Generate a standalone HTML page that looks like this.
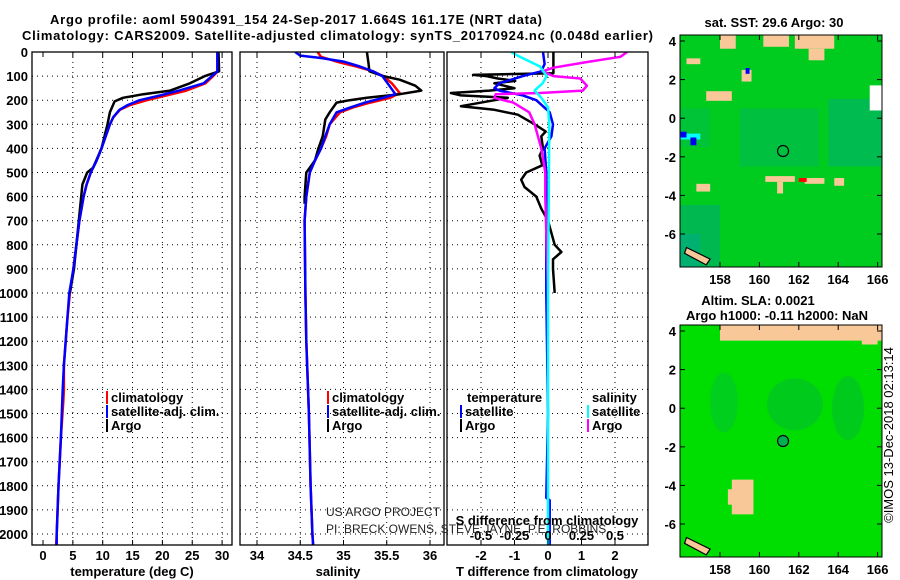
<!DOCTYPE html>
<html><head><meta charset="utf-8">
<style>
html,body{margin:0;padding:0;background:#fff;}
svg{display:block;font-family:"Liberation Sans",sans-serif;}
.b{font-weight:bold;font-size:13px;}
</style></head>
<body>
<svg id="c" width="900" height="580" viewBox="0 0 900 580">
<text x="50" y="24" class="b" font-size="14" textLength="492">Argo profile: aoml 5904391_154 24-Sep-2017 1.664S 161.17E (NRT data)</text>
<text x="22" y="40" class="b" font-size="14" textLength="631">Climatology: CARS2009. Satellite-adjusted climatology: synTS_20170924.nc (0.048d earlier)</text>
<g id="g"></g>
</svg>
<script>
// ---- data ----
const depthTicks=[0,100,200,300,400,500,600,700,800,900,1000,1100,1200,1300,1400,1500,1600,1700,1800,1900,2000];
const tTicks=[0,5,10,15,20,25,30];
const sTicks=[34,34.5,35,35.5,36];
const sTickLabels=["34","34.5","35","35.5","36"];
const dTTicks=[-2,-1,0,1,2];
const dSTicks=[-0.5,-0.25,0,0.25,0.5];
const dSTickLabels=["-0.5","-0.25","0","0.25","0.5"];

const tArgoDepth=[0,80,100,130,160,175,190,205,250,300,400,480,500,550,600,700,800,900,1000];
const tArgo=[29.4,29.5,27.1,24.6,21.3,16.8,13.4,12,11.2,10.8,9.8,8.4,7.4,6.6,6.4,6,5.6,5.2,4.5];
const tClimDepth=[0,80,100,130,160,180,200,220,240,270,300,350,400,450,500,550,600,700,800,900,1000,1100,1200,1300,1400,1450,1600,1800,2000,2050];
const tClim=[29.3,29.3,28.5,27.2,24,20.7,17.4,14.6,12.9,11.8,11.2,10.5,9.8,9,8,7.3,6.8,6.1,5.6,5.1,4.5,4.1,3.8,3.5,3.5,3.4,3.0,2.6,2.3,2.2];
const tSatDepth=[0,80,100,130,160,180,200,220,240,270,300,350,400,450,500,550,600,700,800,900,1000,1100,1200,1300,1400,1600,1800,2000,2050];
const tSat=[29.2,29.2,28.3,26.9,22.8,19.6,16.2,14.2,12.8,11.8,11.2,10.5,9.8,9,8,7.3,6.8,6.1,5.6,5.1,4.4,4.1,3.8,3.5,3.3,3.0,2.6,2.3,2.3];

const sArgoDepth=[0,50,80,100,115,140,160,175,190,200,210,250,280,350,400,450,480,500,600,630];
const sArgo=[35.27,35.29,35.3,35.46,35.65,35.83,35.9,35.65,35.27,35.07,34.92,34.84,34.79,34.76,34.71,34.67,34.61,34.57,34.55,34.55];
const sClimDepth=[0,20,40,60,80,100,130,170,190,210,230,250,300,350,400,450,500,600,700,1000,1200,1500,1800,2000,2050];
const sClim=[34.7,34.74,34.92,35.15,35.34,35.46,35.56,35.65,35.54,35.31,35.11,34.96,34.84,34.8,34.74,34.67,34.61,34.57,34.55,34.56,34.57,34.6,34.62,34.64,34.65];
const sSatDepth=[0,15,25,40,60,80,100,130,175,190,210,230,250,300,350,400,450,500,600,700,1000,1200,1500,1800,2000,2050];
const sSat=[34.44,34.5,34.74,35.0,35.19,35.34,35.45,35.51,35.6,35.46,35.25,35.08,34.92,34.84,34.79,34.74,34.67,34.61,34.57,34.55,34.56,34.57,34.6,34.62,34.64,34.65];

const dTArgoDepth=[0,88,95,100,110,120,130,150,160,170,180,190,225,240,260,300,330,350,400,430,470,500,530,560,600,650,700,800,830,860,900,1000];
const dTArgo=[0.16,0.16,-2.24,-1.83,-1.5,-0.98,-1.6,-1.0,-1.75,-2.9,-2.6,-1.2,-2.6,-1.6,-0.9,-0.4,-0.07,-0.2,-0.15,-0.25,-0.17,-0.65,-0.8,-0.7,-0.35,-0.2,0,0.2,0.4,0.15,0.15,0.2];
const dTSatDepth=[0,50,80,100,130,150,160,180,200,250,300,350,400,500,1000,1500,1850,1860,2000,2050];
const dTSat=[-0.15,-0.1,-0.2,-0.75,-1.45,-1.6,-1.45,-0.75,-0.35,0.05,0.15,0.1,-0.1,-0.05,-0.05,0,-0.05,0.05,0.05,0.05];
const dSSatDepth=[0,20,60,100,130,160,190,230,300,1000,2050];
const dSSat=[-0.275,-0.21,-0.06,-0.01,-0.04,-0.1,-0.05,0,0.01,0,0];
const dSArgoDepth=[0,20,40,65,80,100,110,140,160,170,175,190,210,250,300,400,500,600,1000];
const dSArgo=[0.59,0.54,0.31,0.04,-0.04,0.04,0.24,0.29,0.26,-0.06,-0.39,-0.4,-0.26,-0.14,-0.1,-0.05,-0.02,-0.02,0];

const lonTicks=[158,160,162,164,166];
const latTicks=[4,2,0,-2,-4,-6];
const argoLon=161.2, argoLat=-1.7;

// ---- helpers ----
const NS="http://www.w3.org/2000/svg";
const G=document.getElementById('g');
function el(tag,attrs,parent,text){const e=document.createElementNS(NS,tag);for(const k in attrs)e.setAttribute(k,attrs[k]);if(text!==undefined)e.textContent=text;(parent||G).appendChild(e);return e;}
const Y=d=>52+d*0.241;
const P1={x0:32,x1:232,f:v=>43+5.97*v};
const P2={x0:240,x1:444,f:v=>257+86.5*(v-34)};
const P3={x0:447,x1:648,f:v=>548+33.5*v};
const fS3=v=>548+134*v;
const yTop=52,yBot=545;

function panel(P,name){
  const g=el('g',{});
  
  
  for(const d of depthTicks){if(d===0)continue;const l=el('line',{x1:P.x0,x2:P.x1,y1:Y(d),y2:Y(d),stroke:'#000','stroke-dasharray':'1 4','stroke-width':1},g);
  }
  return g;
}
function vgrid(g,xs){for(const x of xs){const l=el('line',{x1:x,x2:x,y1:yTop,y2:yBot,stroke:'#000','stroke-dasharray':'1 4'},g);
}}
function frame(g,P){const r=el('rect',{x:P.x0,y:yTop,width:P.x1-P.x0,height:yBot-yTop,fill:'none',stroke:'#000','stroke-width':1.3},g);
}
function xticks(g,P,vals,labels,fx,y,name){vals.forEach((v,i)=>{const x=fx(v);
 el('line',{x1:x,x2:x,y1:yBot,y2:yBot-5,stroke:'#000'},g);el('line',{x1:x,x2:x,y1:yTop,y2:yTop+5,stroke:'#000'},g);
 const t=el('text',{x:x,y:y,'text-anchor':'middle',class:'b'},g,labels[i]);});}
function line(g,fx,depths,vals,color,w,name){
  const pts=depths.map((d,i)=>fx(vals[i]).toFixed(1)+','+Y(d).toFixed(1)).join(' ');
  const p=el('polyline',{points:pts,fill:'none',stroke:color,'stroke-width':w,'stroke-linejoin':'round'},g);
  }
function clip(id,x,y,w,h){const c=el('clipPath',{id:id});el('rect',{x:x,y:y,width:w,height:h},c);}
clip('c1',P1.x0,yTop,P1.x1-P1.x0,yBot-yTop);clip('c2',P2.x0,yTop,P2.x1-P2.x0,yBot-yTop);clip('c3',P3.x0,yTop,P3.x1-P3.x0,yBot-yTop);
clip('m35',680,35,202,232);clip('m325',680,325,202,232);

// y tick labels
depthTicks.forEach(d=>{const t=el('text',{x:28,y:Y(d)+5,'text-anchor':'end',class:'b'},G,String(d));
});

// Panel 1
let g1=panel(P1,'temperature-panel');
vgrid(g1,tTicks.slice(1,-1).map(P1.f).concat([P1.f(30)]));
let c1=el('g',{'clip-path':'url(#c1)'},g1);
line(c1,P1.f,tClimDepth,tClim,'#f00',2.5,'temperature-climatology-line');
line(c1,P1.f,tArgoDepth,tArgo,'#000',2.5,'temperature-argo-line');
line(c1,P1.f,tSatDepth,tSat,'#00f',2.5,'temperature-satellite-line');
frame(g1,P1);
xticks(g1,P1,tTicks,tTicks.map(String),P1.f,560,'temperature-tick-label');
el('text',{x:132,y:576,'text-anchor':'middle',class:'b'},g1,'temperature (deg C)');

// Panel 2
let g2=panel(P2,'salinity-panel');
vgrid(g2,sTicks.map(P2.f));
let c2=el('g',{'clip-path':'url(#c2)'},g2);
line(c2,P2.f,sClimDepth,sClim,'#f00',2.5,'salinity-climatology-line');
line(c2,P2.f,sArgoDepth,sArgo,'#000',2.5,'salinity-argo-line');
line(c2,P2.f,sSatDepth,sSat,'#00f',2.5,'salinity-satellite-line');
frame(g2,P2);
xticks(g2,P2,sTicks,sTickLabels,P2.f,560,'salinity-tick-label');
el('text',{x:338,y:576,'text-anchor':'middle',class:'b'},g2,'salinity');

// Panel 3
let g3=panel(P3,'difference-panel');
vgrid(g3,dTTicks.map(P3.f));
let c3=el('g',{'clip-path':'url(#c3)'},g3);
line(c3,P3.f,dTArgoDepth,dTArgo,'#000',2.5,'t-diff-argo-line');
line(c3,P3.f,dTSatDepth,dTSat,'#00f',2.5,'t-diff-satellite-line');
line(c3,fS3,dSArgoDepth,dSArgo,'#f0f',2.5,'s-diff-argo-line');
line(c3,fS3,dSSatDepth,dSSat,'#0ff',2.5,'s-diff-satellite-line');
frame(g3,P3);
xticks(g3,P3,dTTicks,dTTicks.map(String),P3.f,560,'t-diff-tick-label');
el('text',{x:547,y:576,'text-anchor':'middle',class:'b'},g3,'T difference from climatology');
el('text',{x:547,y:525,'text-anchor':'middle',class:'b'},g3,'S difference from climatology');
dSTicks.forEach((v,i)=>{const t=el('text',{x:fS3(v),y:540,'text-anchor':'middle',class:'b'},g3,dSTickLabels[i]);});

// legends
function leg(x,y,color,label,name){const g=el('g',{});
 el('rect',{x:x,y:y-11,width:2,height:13,fill:color},g);el('text',{x:x+5,y:y,class:'b'},g,label);}
leg(106,402,'#f00','climatology','legend-climatology');
leg(106,416,'#00f','satellite-adj. clim.','legend-satellite');
leg(106,430,'#000','Argo','legend-argo');
leg(327,402,'#f00','climatology','legend2-climatology');
leg(327,416,'#00f','satellite-adj. clim.','legend2-satellite');
leg(327,430,'#000','Argo','legend2-argo');
el('text',{x:467,y:402,class:'b'},G,'temperature');
el('text',{x:592,y:402,class:'b'},G,'salinity');
leg(460,416,'#00f','satellite','legend-t-satellite');
leg(460,430,'#000','Argo','legend-t-argo');
leg(587,416,'#0ff','satellite','legend-s-satellite');
leg(587,430,'#f0f','Argo','legend-s-argo');
el('text',{x:326,y:516,'font-size':12,fill:'#222'},G,'US ARGO PROJECT');
el('text',{x:326,y:533,'font-size':12,fill:'#222'},G,'PI: BRECK OWENS, STEVE JAYNE, P.E. ROBBINS');

// ---- maps ----
const LX=lon=>720+(lon-158)*19.7;
function map(y0,name,top){
  const LY=lat=>y0+6+(4-lat)*19.3;
  const g=el('g',{});
  const inner=el('g',{'clip-path':'url(#m'+y0+')'},g);
  el('rect',{x:680,y:y0,width:202,height:232,fill:top?'#00cc20':'#00dd00'},inner);
  const R=(a,b,c,d,col)=>el('rect',{x:LX(a),y:LY(d),width:LX(b)-LX(a),height:LY(c)-LY(d),fill:col},inner);
  if(top){
    R(156,158,-7.7,-4.5,'#00b850');R(156,157,-7.7,-6,'#00b070');R(163.5,166.3,-2.5,1,'#00bc50');
    R(159,163,-2.5,0.5,'#00c040');R(156,157.5,-1.5,0.5,'#00c438');
    const B='#f8c898';
    R(158,158.8,3.6,4.3,B);R(160.2,161.5,3.7,4.3,B);R(161.8,163.8,3.6,4.3,B);R(162.5,163.3,3,3.6,B);
    R(157.3,158.6,0.9,1.4,B);R(159.1,159.6,1.9,2.5,B);R(156.3,157,2.8,3.1,B);
    R(160.3,161.8,-3.3,-3.0,B);R(160.9,161.2,-3.9,-3.3,B);R(162.3,163.3,-3.4,-3.1,B);R(163.8,164.3,-3.5,-3.1,B);
    R(156.8,157.5,-3.8,-3.4,B);R(156,157,-1.1,-0.8,'#00ffff');R(156,156.3,-1,-0.7,'#0000ff');R(156.5,156.8,-1.4,-1,'#0000ee');
    R(165.6,166.3,0.4,1.7,'#ffffff');R(162,162.4,-3.3,-3.1,'#ff0000');R(159.3,159.5,2.3,2.6,'#0000ff');
  } else {
    el('ellipse',{cx:LX(158.2),cy:LY(0.3),rx:14,ry:30,fill:'#00c830',opacity:0.6},inner);
    el('ellipse',{cx:LX(161.8),cy:LY(0.2),rx:28,ry:26,fill:'#00c030',opacity:0.6},inner);
    el('ellipse',{cx:LX(164.5),cy:LY(0),rx:16,ry:32,fill:'#00c030',opacity:0.6},inner);
    const B='#f8c898';
    R(158,166.3,3.5,4.3,B);R(165.2,166,3.3,4,B);
    R(158.6,159.7,-5.5,-3.7,B);R(158.4,158.7,-5,-4.2,B);
  }
  el('path',{d:`M${LX(156.3)} ${LY(-6.7)} L${LX(157.5)} ${LY(-7.3)} L${LX(157.3)} ${LY(-7.6)} L${LX(156.2)} ${LY(-7)} Z`,fill:'#f8c898',stroke:'#000','stroke-width':1.2},inner);
  const circ=el('circle',{cx:LX(argoLon),cy:LY(argoLat),r:5.5,fill:top?'none':'#00b050',stroke:'#000','stroke-width':1.2},g);
  
  el('rect',{x:680,y:y0,width:202,height:232,fill:'none',stroke:'#000'},g);
  lonTicks.forEach(l=>{const x=LX(l);el('line',{x1:x,x2:x,y1:y0,y2:y0+5,stroke:'#000'},g);el('line',{x1:x,x2:x,y1:y0+232,y2:y0+227,stroke:'#000'},g);
   const t=el('text',{x:x,y:y0+249,'text-anchor':'middle',class:'b'},g,String(l));});
  latTicks.forEach(l=>{const y=LY(l);el('line',{x1:680,x2:685,y1:y,y2:y,stroke:'#000'},g);el('line',{x1:882,x2:877,y1:y,y2:y,stroke:'#000'},g);
   const t=el('text',{x:676,y:y+5,'text-anchor':'end',class:'b'},g,String(l));});
}
map(35,'sst-map',true);
map(325,'sla-map',false);
el('text',{x:774,y:27,'text-anchor':'middle',class:'b'},G,'sat. SST: 29.6 Argo: 30');
el('text',{x:758,y:305,'text-anchor':'middle',class:'b'},G,'Altim. SLA: 0.0021');
el('text',{x:777,y:320,'text-anchor':'middle',class:'b'},G,'Argo h1000: -0.11 h2000: NaN');
el('text',{x:0,y:0,'text-anchor':'middle','font-size':13,transform:'translate(893,435) rotate(-90)'},G,'©IMOS 13-Dec-2018 02:13:14');
</script>
</body></html>
